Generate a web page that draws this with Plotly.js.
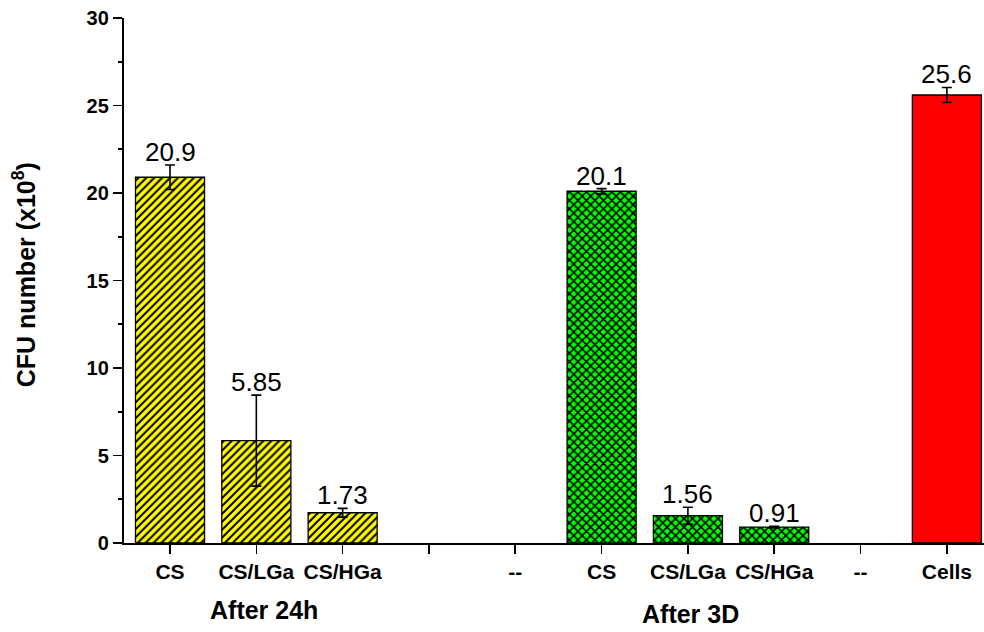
<!DOCTYPE html>
<html>
<head>
<meta charset="utf-8">
<script src="https://cdn.plot.ly/plotly-3.0.1.min.js"></script>
<style>
  html, body { margin: 0; padding: 0; background: #fff; }
  #chart { width: 984px; height: 632px; }
</style>
</head>
<body>
<div id="chart"></div>
<script>
// Category slots along the x axis (1..10) and their tick labels
const slots = [1, 2, 3, 4, 5, 6, 7, 8, 9, 10];
const tickLabels = ['CS', 'CS/LGa', 'CS/HGa', '', '--', 'CS', 'CS/LGa', 'CS/HGa', '--', 'Cells'];

// After 24 h
const x24h = [1, 2, 3];
const cfu24h = [20.9, 5.85, 1.73];
const err24h = [0.7, 2.6, 0.25];

// After 3 days
const x3d = [6, 7, 8];
const cfu3d = [20.1, 1.56, 0.91];
const err3d = [0.15, 0.48, 0.05];

// Untreated cells
const xCells = [10];
const cfuCells = [25.6];
const errCells = [0.43];

// Group captions under the tick labels
const groupLabels = ['After 24h', 'After 3D'];
const groupCenters = [2.09, 7.03];
const groupRows = [-0.1276, -0.1352];

const FONT = 'Liberation Sans, Arial, sans-serif';

function barTrace(x, y, err, fill, pattern) {
  const marker = { color: fill, line: { color: '#000', width: 1.3 } };
  if (pattern) {
    marker.pattern = {
      shape: pattern.shape, fgcolor: '#000', bgcolor: fill,
      size: pattern.size, solidity: pattern.solidity, fillmode: 'replace'
    };
  }
  return {
    type: 'bar', x: x, y: y, width: 0.8, marker: marker,
    error_y: { type: 'data', array: err, visible: true, color: '#000', thickness: 1.6, width: 5 },
    hoverinfo: 'skip', showlegend: false
  };
}

const traces = [
  barTrace(x24h, cfu24h, err24h, '#FFFF00', { shape: '/', size: 5.6, solidity: 0.36 }),
  barTrace(x3d, cfu3d, err3d, '#00FF00', { shape: 'x', size: 6, solidity: 0.45 }),
  barTrace(xCells, cfuCells, errCells, '#FF0000', null)
];

// Value labels sit just above each error bar
const annotations = [];
function addValueLabels(x, y, err) {
  x.forEach((xi, i) => {
    annotations.push({
      x: xi, y: y[i] + err[i], xref: 'x', yref: 'y',
      text: String(y[i]), showarrow: false, yanchor: 'bottom', yshift: -4,
      font: { family: FONT, size: 26, color: '#000' }
    });
  });
}
addValueLabels(x24h, cfu24h, err24h);
addValueLabels(x3d, cfu3d, err3d);
addValueLabels(xCells, cfuCells, errCells);

groupLabels.forEach((t, i) => {
  annotations.push({
    x: groupCenters[i], y: groupRows[i], xref: 'x', yref: 'paper',
    text: t, showarrow: false, yanchor: 'middle', xanchor: 'center',
    font: { family: FONT, size: 25, color: '#000', weight: 'bold' }
  });
});

// Y axis title, drawn as a rotated caption left of the tick labels
annotations.push({
  x: -0.116, y: 0.5105, xref: 'paper', yref: 'paper',
  text: 'CFU number (x10<sup>8</sup>)', textangle: -90, showarrow: false,
  xanchor: 'center', yanchor: 'middle',
  font: { family: FONT, size: 25, color: '#000', weight: 'bold' }
});

const layout = {
  width: 984, height: 632,
  margin: { l: 124, r: 0, t: 18, b: 89 },
  paper_bgcolor: '#fff', plot_bgcolor: '#fff',
  font: { family: FONT, color: '#000' },
  xaxis: {
    range: [0.467, 10.43], tickmode: 'array', tickvals: slots, ticktext: tickLabels,
    ticks: 'outside', ticklen: 9, tickwidth: 1.6, tickcolor: '#000',
    showline: true, linecolor: '#000', linewidth: 2.2,
    showgrid: false, zeroline: false,
    tickfont: { family: FONT, size: 21, color: '#000', weight: 'bold' }
  },
  yaxis: {
    range: [0, 30], tickmode: 'linear', tick0: 0, dtick: 5,
    ticks: 'outside', ticklen: 9, tickwidth: 1.6, tickcolor: '#000',
    minor: { dtick: 2.5, ticks: 'outside', ticklen: 4, tickwidth: 1.6, tickcolor: '#000', showgrid: false },
    showline: true, linecolor: '#000', linewidth: 2.2,
    showgrid: false, zeroline: false,
    tickfont: { family: FONT, size: 20, color: '#000', weight: 'bold' }
  },
  annotations: annotations
};

Plotly.newPlot('chart', traces, layout, { displayModeBar: false, staticPlot: true });
</script>
</body>
</html>
